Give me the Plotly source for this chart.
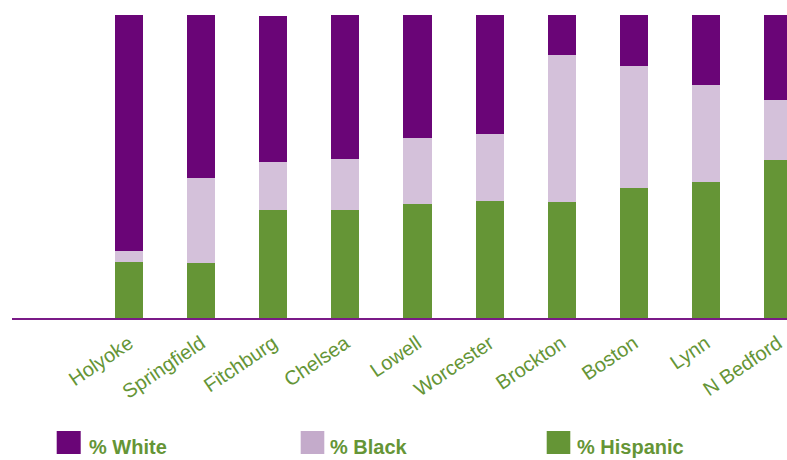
import plotly.graph_objects as go

cities = ["Holyoke", "Springfield", "Fitchburg", "Chelsea", "Lowell",
          "Worcester", "Brockton", "Boston", "Lynn", "N Bedford"]
pct_hispanic = [18.5, 18.2, 35.6, 35.6, 37.6, 38.6, 38.3, 42.9, 44.9, 52.1]
pct_black = [3.6, 28.1, 15.8, 16.8, 21.8, 22.1, 48.5, 40.3, 32.0, 19.8]
pct_white = [77.9, 53.8, 48.2, 47.9, 40.6, 39.6, 13.2, 17.2, 23.4, 28.1]
series_names = ["% White", "% Black", "% Hispanic"]

C_WHITE = "#6a0577"
C_BLACK = "#d4c1da"
C_BLACK_LEG = "#c4abcb"
C_HISP = "#659536"
TXT = "#659536"

W, H = 787, 460
L, R, T, B = 12, 0, 15, 142

fig = go.Figure()
for name, vals, col in [("% Hispanic", pct_hispanic, C_HISP),
                        ("% Black", pct_black, C_BLACK),
                        ("% White", pct_white, C_WHITE)]:
    fig.add_trace(go.Bar(x=cities, y=vals, name=name, marker=dict(color=col, line=dict(width=0)),
                         width=0.39, showlegend=False))

pw = W - L - R
ph = H - T - B
def px2x(px):
    return (px - L) / pw
def py2y(py):
    return (H - B - py) / ph

shapes = []
annotations = []
leg = [(C_WHITE, 56.7, 80.7, 86.5),
       (C_BLACK_LEG, 300.7, 324.3, 327.5),
       (C_HISP, 546.7, 570.3, 574.5)]
for (col, x0, x1, tx), sname in zip(leg, series_names):
    shapes.append(dict(type="rect", xref="paper", yref="paper",
                       x0=px2x(x0), x1=px2x(x1), y0=py2y(454), y1=py2y(431),
                       fillcolor=col, line=dict(width=0)))
    annotations.append(dict(xref="paper", yref="paper", x=px2x(tx), y=py2y(447),
                            xanchor="left", yanchor="middle", showarrow=False,
                            text=sname,
                            font=dict(family="Liberation Sans, Arial",
                                      size=20, color=TXT, weight="bold")))

fig.update_layout(
    barmode="stack",
    width=W, height=H,
    margin=dict(l=L, r=R, t=T, b=B, pad=0),
    paper_bgcolor="white", plot_bgcolor="white",
    bargap=0.6,
    shapes=shapes,
    annotations=annotations,
    xaxis=dict(range=[-1.623, 9.125], showgrid=False, zeroline=False,
               showline=True, linecolor="#7a1a87", linewidth=2,
               ticks="", tickangle=-34, ticklabelstandoff=4,
               tickfont=dict(family="Liberation Sans, Arial", size=20, color=TXT)),
    yaxis=dict(range=[0, 100], visible=False, showgrid=False, zeroline=False),
    showlegend=False,
)

fig.write_html("out.html")
